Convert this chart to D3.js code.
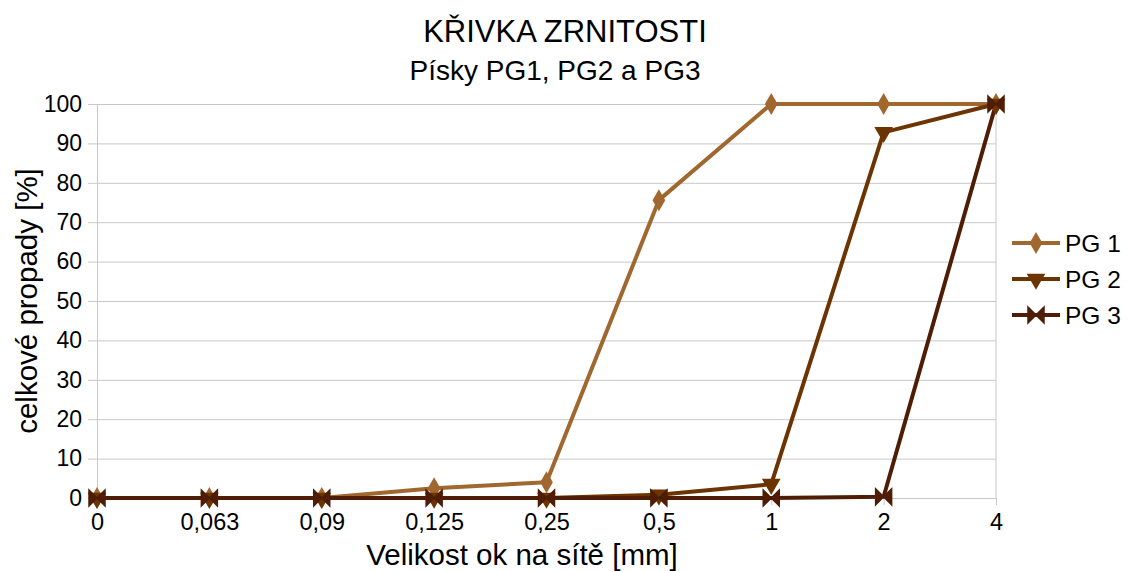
<!DOCTYPE html>
<html>
<head>
<meta charset="utf-8">
<script src="https://cdn.jsdelivr.net/npm/d3@7"></script>
<style>
  body { margin: 0; background: #fff; }
  text { font-family: "Liberation Sans", Arial, sans-serif; fill: #000; }
</style>
</head>
<body>
<div id="chart"></div>
<script>
const sieves = ['0', '0,063', '0,09', '0,125', '0,25', '0,5', '1', '2', '4'];
const pg1 = [0, 0, 0, 2.5, 4, 75.6, 100, 100, 100];
const pg2 = [0, 0, 0, 0, 0, 0.8, 3.5, 92.8, 100];
const pg3 = [0, 0, 0, 0, 0, 0, 0, 0.3, 100];
const yTicks = [0, 10, 20, 30, 40, 50, 60, 70, 80, 90, 100];
const seriesNames = ['PG 1', 'PG 2', 'PG 3'];
const colors = ['#a0672f', '#6b3400', '#4f1d05'];

const W = 1129, H = 572;
const margin = {top: 104, right: 133, bottom: 74, left: 97};
const width = W - margin.left - margin.right;
const height = H - margin.top - margin.bottom;

var svg = d3.select('#chart').append('svg')
  .attr('width', W).attr('height', H);

svg.append('text').attr('x', 565).attr('y', 42)
  .attr('text-anchor', 'middle').style('font-size', '31px')
  .text('KŘIVKA ZRNITOSTI');
svg.append('text').attr('x', 555).attr('y', 80)
  .attr('text-anchor', 'middle').style('font-size', '28px')
  .text('Písky PG1, PG2 a PG3');

var g = svg.append('g').attr('transform', `translate(${margin.left},${margin.top})`);

var x = d3.scalePoint().domain(sieves).range([0, width]);
var y = d3.scaleLinear().domain([0, 100]).range([height, 0]);

// grid
g.append('g')
  .call(d3.axisLeft(y).tickValues(yTicks).tickSize(-width).tickFormat(''))
  .call(a => a.select('.domain').remove())
  .selectAll('line').attr('stroke', '#c8c8c8');
// right border
g.append('line').attr('x1', width).attr('x2', width).attr('y1', 0).attr('y2', height)
  .attr('stroke', '#c8c8c8');

// y axis
var yAx = g.append('g')
  .call(d3.axisLeft(y).tickValues(yTicks).tickSize(9).tickPadding(6));
yAx.select('.domain').attr('stroke', '#c8c8c8');
yAx.selectAll('line').attr('stroke', '#c8c8c8');
yAx.selectAll('text').style('font-size', '23px').attr('fill', '#000');

// x axis
var xAx = g.append('g').attr('transform', `translate(0,${height})`)
  .call(d3.axisBottom(x).tickSize(7).tickPadding(8));
xAx.select('.domain').attr('stroke', '#c8c8c8');
xAx.selectAll('line').attr('stroke', '#c8c8c8');
xAx.selectAll('text').style('font-size', '23.5px').attr('fill', '#000');

svg.append('text').attr('x', 522).attr('y', 565)
  .attr('text-anchor', 'middle').style('font-size', '29.5px')
  .text('Velikost ok na sítě [mm]');
svg.append('text')
  .attr('transform', `translate(37,${margin.top + height / 2}) rotate(-90)`)
  .attr('text-anchor', 'middle').style('font-size', '29.5px')
  .text('celkové propady [%]');

var line = d3.line().x((d, i) => x(sieves[i])).y(d => y(d));

const symbols = [
  d3.symbol().type(d3.symbolDiamond).size(140),
  d3.symbol().type(d3.symbolTriangle).size(150),
  d3.symbol().type(d3.symbolTimes).size(130)
];
const rot = [0, 180, 0];

function marker(sel, k) {
  if (k === 2) {
    // bow-tie shaped marker
    sel.append('path').attr('d', 'M-8,-8 L0,0 L-8,8 Z M8,-8 L0,0 L8,8 Z')
      .attr('fill', colors[k]).attr('stroke', colors[k]).attr('stroke-width', 1.5);
  } else {
    sel.append('path').attr('d', symbols[k]())
      .attr('transform', `rotate(${rot[k]})`)
      .attr('fill', colors[k]);
  }
}

[pg1, pg2, pg3].forEach((vals, k) => {
  g.append('path').datum(vals).attr('d', line)
    .attr('fill', 'none').attr('stroke', colors[k]).attr('stroke-width', 4)
    .attr('stroke-linejoin', 'round');
});
[pg1, pg2, pg3].forEach((vals, k) => {
  vals.forEach((v, i) => {
    var m = g.append('g').attr('transform', `translate(${x(sieves[i])},${y(v)})`);
    marker(m, k);
  });
});

// legend
var leg = svg.append('g').attr('transform', 'translate(1012,243)');
seriesNames.forEach((n, k) => {
  var r = leg.append('g').attr('transform', `translate(0,${k * 36})`);
  r.append('line').attr('x1', 0).attr('x2', 48).attr('stroke', colors[k]).attr('stroke-width', 4);
  var m = r.append('g').attr('transform', 'translate(24,0)');
  marker(m, k);
  r.append('text').attr('x', 53).attr('y', 9).style('font-size', '24.5px').text(n);
});
</script>
</body>
</html>
